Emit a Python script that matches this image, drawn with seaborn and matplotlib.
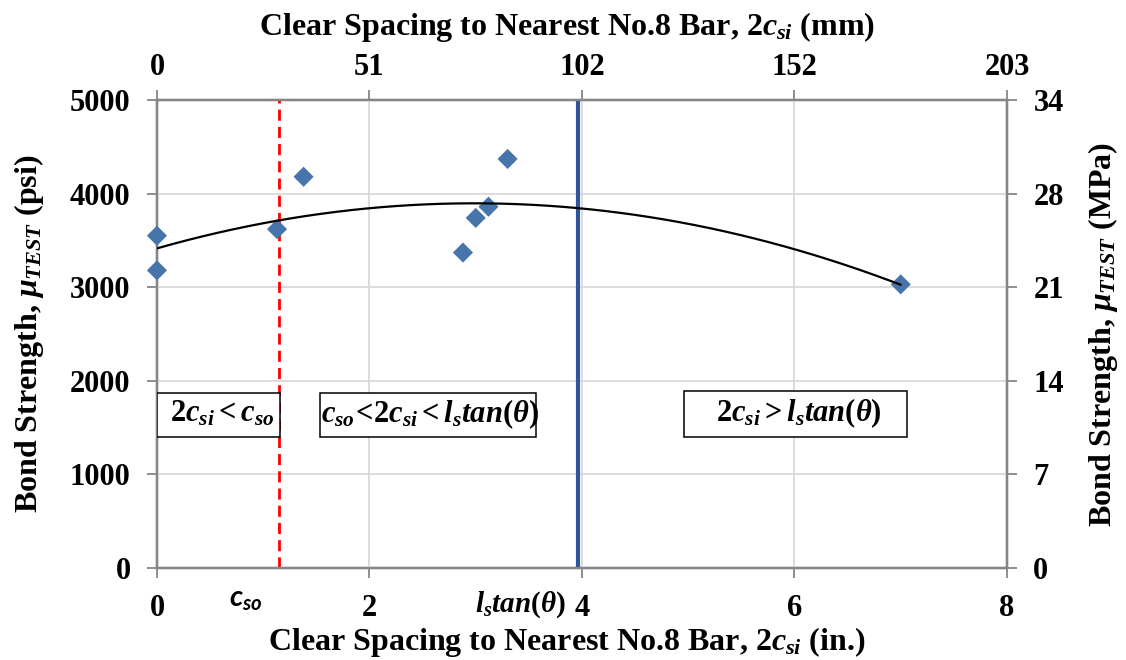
import numpy as np
import pandas as pd
import seaborn as sns
import matplotlib.pyplot as plt
from matplotlib.patches import Rectangle

# Measured bond strength versus clear spacing to the nearest No.8 bar
spacing_in = [0.0, 0.0, 1.13, 1.38, 2.88, 3.00, 3.12, 3.30, 7.00]
bond_psi = [3550, 3180, 3620, 4180, 3370, 3740, 3860, 4370, 3030]

# Regime boundaries (in.)
c_so = 1.15
ls_tan_theta = 3.96

# Axis ticks: primary in inches / psi, secondary labels in mm / MPa
x_ticks = [0, 2, 4, 6, 8]
mm_tick_labels = ["0", "51", "102", "152", "203"]
y_ticks = [0, 1000, 2000, 3000, 4000, 5000]
mpa_tick_labels = ["0", "7", "14", "21", "28", "34"]

# Regime descriptions
regime_labels = [
    r"$2c_{si} < c_{so}$",
    r"$c_{so}\!<\!2c_{si} < l_s tan(\theta)$",
    r"$2c_{si} > l_s tan(\theta)$",
]

sns.set_theme(style="white")
plt.rcParams["font.family"] = ["Liberation Serif", "DejaVu Serif"]
plt.rcParams.update({
    "font.weight": "bold",
    "axes.labelweight": "bold",
    "text.color": "black",
    "axes.labelcolor": "black",
    "mathtext.fontset": "custom",
    "mathtext.rm": "Liberation Serif:bold",
    "mathtext.it": "Liberation Serif:bold:italic",
    "mathtext.bf": "Liberation Serif:bold",
    "mathtext.sf": "Lato:bold:italic",
})

SPINE = "#868686"
GRID = "#D9D9D9"
FS = 22
LFS = 23

fig = plt.figure(figsize=(11.26, 6.6), dpi=100)
ax = fig.add_axes([0.1394, 0.1394, 0.7549, 0.7091])

df = pd.DataFrame({"spacing": spacing_in, "bond": bond_psi})

# Second-order polynomial trendline through the test results
coef = np.polyfit(df["spacing"], df["bond"], 2)
xx = np.linspace(0, df["spacing"].max(), 200)
trend = pd.DataFrame({"spacing": xx, "bond": np.polyval(coef, xx)})

ax.axvline(c_so, color="#FF0000", lw=2.0, ls=(0, (4, 2.2)), zorder=2)
ax.axvline(ls_tan_theta, color="#2E5597", lw=3.0, zorder=2)

sns.scatterplot(data=df, x="spacing", y="bond", marker="D", s=105,
                color="#4674AB", edgecolor="none", ax=ax, zorder=7,
                clip_on=False)
sns.lineplot(data=trend, x="spacing", y="bond", color="black", lw=1.6,
             ax=ax, zorder=8)

ax.set_xlim(0, 8)
ax.set_ylim(0, 5000)
ax.set_xticks(x_ticks)
ax.set_yticks(y_ticks)
ax.grid(True, color=GRID, lw=1.3)
ax.set_axisbelow(True)

ax.set_xlabel(r"Clear Spacing to Nearest No.8 Bar, 2$c_{si}$ (in.)",
              fontsize=LFS, labelpad=1)
ax.xaxis.label.set_x(0.482)
ax.set_ylabel(r"Bond Strength, $\mu_{TEST}$ (psi)", fontsize=LFS,
              labelpad=17)

# Secondary axes in SI units
axt = ax.twiny()
axt.set_xlim(ax.get_xlim())
axt.set_xticks(x_ticks)
axt.set_xticklabels(mm_tick_labels)
axt.set_xlabel(r"Clear Spacing to Nearest No.8 Bar, 2$c_{si}$ (mm)",
               fontsize=LFS, labelpad=13)
axt.xaxis.label.set_x(0.482)

axr = ax.twinx()
axr.set_ylim(ax.get_ylim())
axr.set_yticks(y_ticks)
axr.set_yticklabels(mpa_tick_labels)
axr.set_ylabel(r"Bond Strength, $\mu_{TEST}$ (MPa)", fontsize=LFS,
               rotation=90, labelpad=16)

for a in (ax, axt, axr):
    for sp in a.spines.values():
        sp.set_color(SPINE)
        sp.set_linewidth(1.6)
    a.tick_params(direction="out", length=7, width=1.3, color=SPINE,
                  labelcolor="black", labelsize=FS, pad=12)
    for lab in a.get_xticklabels() + a.get_yticklabels():
        lab.set_fontweight("bold")
axt.tick_params(axis="x", pad=6)

# Keep the main axes (with the data) drawn above the twin axes' spines
ax.set_zorder(axr.get_zorder() + 1)
ax.patch.set_visible(False)

# Regime annotation boxes: (left, right, bottom, top) and text centre
boxes = [
    ((0.0, 1.158, 1400, 1870), (0.61, 1645)),
    ((1.534, 3.567, 1400, 1870), (2.57, 1645)),
    ((4.96, 7.06, 1400, 1891), (6.04, 1655)),
]
for text, ((x0, x1, y0, y1), (tx, ty)) in zip(regime_labels, boxes):
    ax.add_patch(Rectangle((x0, y0), x1 - x0, y1 - y0, fc="white",
                           ec="black", lw=1.1, zorder=5))
    ax.text(tx, ty, text, ha="center", va="center", fontsize=22, zorder=6)

# Labels for the boundary lines under the axis
xt = ax.get_xaxis_transform()
ax.text(0.835, -0.068, r"$\mathsf{c_{so}}$", transform=xt, ha="center",
        va="center", fontsize=21, clip_on=False)
ax.text(3.42, -0.079, r"$l_s tan(\theta)$", transform=xt, ha="center",
        va="center", fontsize=21, clip_on=False)

fig.savefig("out.png", dpi=100)
